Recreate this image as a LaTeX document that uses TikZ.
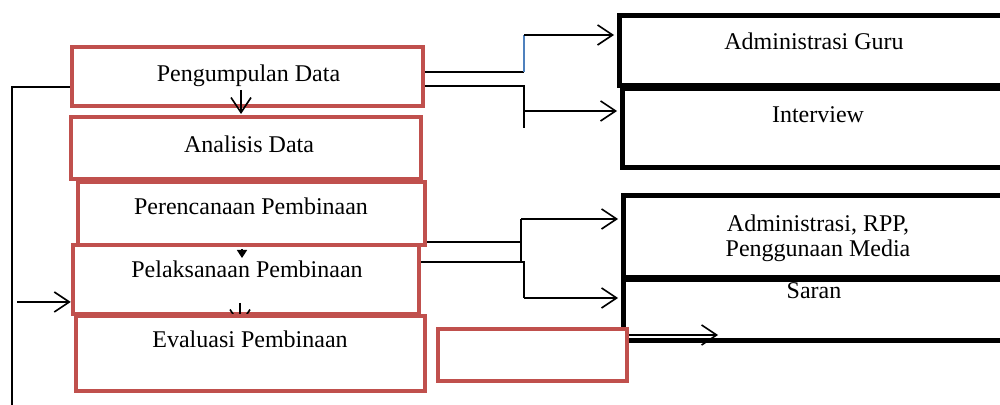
\documentclass[tikz,border=0pt]{standalone}
\usepackage{fontspec}
\setmainfont{Liberation Serif}
\usetikzlibrary{arrows.meta}
\definecolor{boxred}{HTML}{C0504D}
\definecolor{lineblue}{HTML}{4F81BD}
\begin{document}
\begin{tikzpicture}[x=0.5pt,y=-0.5pt,
  redbox/.style={draw=boxred,line width=2.25pt,fill=white,inner sep=0pt},
  blackbox/.style={draw=black,line width=2.5pt,fill=white,inner sep=0pt},
  lbl/.style={font=\fontsize{12}{13.5}\selectfont,anchor=base,inner sep=0pt,align=center},
  conn/.style={line width=0.8pt},
  arr/.style={conn,-{Straight Barb[length=7.5pt,width=10pt]}}]
\useasboundingbox (0,0) rectangle (1000,405);
\clip (0,0) rectangle (1000,405);
% right black boxes (run past the right edge)
\node[blackbox,minimum width=220.5pt,minimum height=35pt] (r1) at (839.5,51) {};
\node[blackbox,minimum width=219pt,minimum height=39.5pt] (r2) at (841,128.5) {};
\node[blackbox,minimum width=218.5pt,minimum height=41pt] (r3) at (841.5,237) {};
\node[blackbox,minimum width=218.5pt,minimum height=30.5pt] (r4) at (841.5,310.5) {};
% left red boxes
\node[redbox,minimum width=175.5pt,minimum height=29.5pt] (p1) at (247.5,76.5) {};
\node[redbox,minimum width=175pt,minimum height=31pt] (p2) at (246,148) {};
\node[redbox,minimum width=173.5pt,minimum height=31.5pt] (p3) at (251.5,213.5) {};
\node[redbox,minimum width=173pt,minimum height=34.5pt] (p4) at (246,279.5) {};
\draw[arr] (240,303) -- (240,326);
\node[redbox,minimum width=174.5pt,minimum height=37.5pt] (p5) at (250.5,353.5) {};
% connectors to the right boxes
\coordinate (j1) at (524,72);
\coordinate (j1t) at (524,35);
\draw[conn] (p1.east |- j1) -- (j1);
\draw[lineblue,line width=0.8pt] (j1) -- (j1t);
\draw[arr,shorten >=1.25pt] (j1t) -- (r1.west |- j1t);
\coordinate (j2) at (524,86);
\coordinate (j2b) at (524,128);
\coordinate (j2a) at (524,111);
\draw[conn] (p1.east |- j2) -- (j2) -- (j2b);
\draw[arr,shorten >=1.25pt] (j2a) -- (r2.west |- j2a);
\coordinate (j3) at (521,242);
\coordinate (j3t) at (521,219);
\coordinate (j3b) at (521,262);
\draw[conn] (p3.east |- j3) -- (j3);
\draw[conn] (j3t) -- (j3b);
\draw[arr,shorten >=1.25pt] (j3t) -- (r3.west |- j3t);
\coordinate (j4) at (524,262);
\coordinate (j4b) at (524,298);
\draw[conn] (p4.east |- j4) -- (j4) -- (j4b);
\draw[arr,shorten >=1.25pt] (j4b) -- (r4.west |- j4b);
% empty red box and its arrow
\node[redbox,minimum width=94.5pt,minimum height=26pt] (p6) at (532.5,355) {};
\coordinate (e6) at (718,335);
\draw[arr] (p6.east |- e6) -- (e6);
% feedback line on the left
\coordinate (fb1) at (12,87);
\coordinate (fb2) at (12,410);
\draw[conn] (p1.west |- fb1) -- (fb1) -- (fb2);
\coordinate (fa) at (17,302);
\draw[arr] (fa) -- (p4.west |- fa);
% arrows between the steps
\draw[arr] (241,90) -- (241,114);
\draw[conn,-{Triangle[length=4pt,width=5pt]}] (242,249) -- (242,258);
% texts
\node[lbl] (t1) at (248.5,82) {Pengumpulan Data};
\node[lbl] (t2) at (249,153) {Analisis Data};
\node[lbl] (t3) at (251,215) {Perencanaan Pembinaan};
\node[lbl] (t4) at (247,278) {Pelaksanaan Pembinaan};
\node[lbl] (t5) at (250,348) {Evaluasi Pembinaan};
\node[lbl] (u1) at (814,50) {Administrasi Guru};
\node[lbl] (u2) at (818,123) {Interview};
\node[lbl] (u3a) at (818,232) {Administrasi, RPP,};
\node[lbl] (u3b) at (818,257) {Penggunaan Media};
\node[lbl] (u4) at (814,299) {Saran};
\end{tikzpicture}
\end{document}
